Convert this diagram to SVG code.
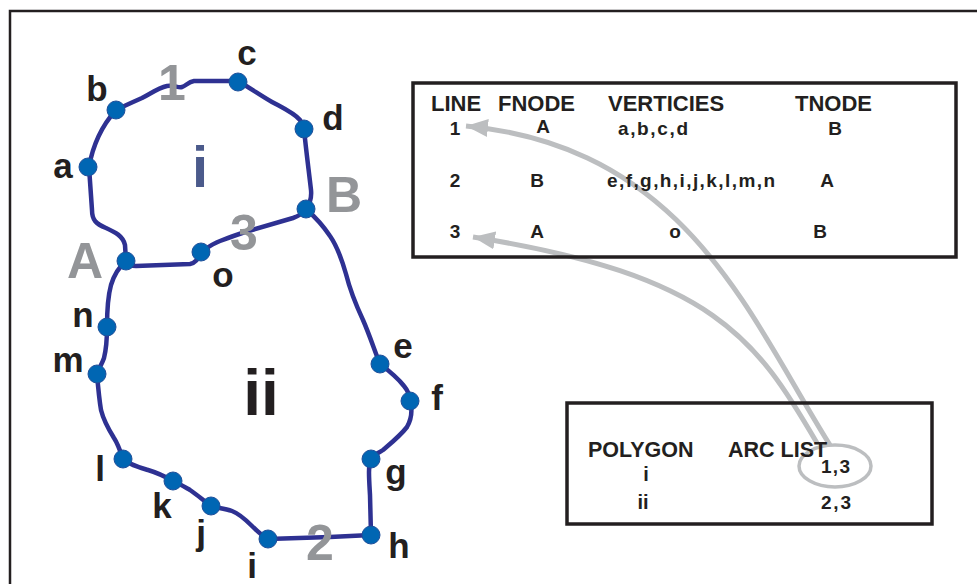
<svg xmlns="http://www.w3.org/2000/svg" width="977" height="584" viewBox="0 0 977 584">
<style>
.frame{fill:none;stroke:#231f20;stroke-width:2.5}
.box{fill:none;stroke:#231f20;stroke-width:3.5}
.arc{fill:none;stroke:#2e3192;stroke-width:4.5;stroke-linejoin:round;stroke-linecap:round}
.pt{fill:#0066b3;stroke:#1f4f9a;stroke-width:1}
.ptr{fill:none;stroke:#bcbec0;stroke-width:5}
.lbl{font-family:"Liberation Sans",Arial,sans-serif;font-weight:bold;fill:#231f20;font-size:35px;text-anchor:middle}
.big{font-family:"Liberation Sans",Arial,sans-serif;font-weight:bold;fill:#939598;font-size:50px;text-anchor:middle}
.hd{font-family:"Liberation Sans",Arial,sans-serif;font-weight:bold;fill:#231f20;font-size:22px}
.cell{font-family:"Liberation Sans",Arial,sans-serif;font-weight:bold;fill:#231f20;font-size:19px}
.mid{text-anchor:middle}
</style>
<defs>
<marker id="ah" markerUnits="userSpaceOnUse" markerWidth="24" markerHeight="20" viewBox="0 -10 24 20" refX="22" refY="0" orient="auto">
<path d="M0,-9 L22,0 L0,9 Z" fill="#bcbec0"/>
</marker>
</defs>
<rect width="977" height="584" fill="#fff"/>
<path class="frame" d="M10,584 L10,11 L977,11"/>

<g id="connectors">
<path class="ptr" d="M830,445 C750,318 687,147 466,126" marker-end="url(#ah)"/>
<path class="ptr" d="M817,443 C757,340 714,275 473,237" marker-end="url(#ah)"/>
<ellipse class="ptr" cx="835" cy="466" rx="36" ry="21" style="stroke-width:3.5"/>
</g>

<g id="line1">
<path class="arc" d="M126,261 L125,245 C123,236 115,232 106,228 C96,224 92,220 92,210 L89,167 C92,150 98,130 116,110 C124,106 133,102 142,98 C150,94 158,88 167,86 C174,85 178,88 182,87 C186,86 188,82 194,81 L238,81 C250,88 263,97 272,102 C283,108 294,113 300,120 L304,129 C306,150 309,172 311,190 C312,200 309,205 306,209"/>
</g>
<g id="line3">
<path class="arc" d="M126,261 C128,264 130,266 136,266 L190,264 C196,263 199,258 201,252 C207,248 212,244 220,241 C228,238 236,235 245,232 L293,218 C299,216 303,213 306,209"/>
</g>
<g id="line2">
<path class="arc" d="M306,209 C314,216 322,224 330,236 C337,246 342,260 346,274 C350,290 356,305 363,320 C370,336 375,352 380,364 C388,370 397,377 404,386 C409,392 410,397 410,401 C412,408 412,418 407,427 C400,436 390,444 383,450 C377,454 373,455 371,459 C368,466 369,478 370,495 L371,535 L330,537 L268,539 C262,536 258,532 252,526 C246,520 240,514 232,511 C224,508 216,508 211,506 C203,500 196,494 190,490 C183,486 178,483 173,481 C166,477 158,473 148,470 C138,467 130,465 123,459 C120,450 118,444 114,438 C109,430 104,422 101,410 C99,398 98,386 97,374 C99,368 102,364 104,358 C106,350 107,340 107,327 C107,310 108,296 111,285 C114,275 119,267 126,261"/>
</g>

<g id="nodes">
<g id="node-a"><circle class="pt" cx="88" cy="167" r="9"/><text class="lbl" x="63" y="178">a</text></g>
<g id="node-b"><circle class="pt" cx="116" cy="110" r="9"/><text class="lbl" x="97" y="101">b</text></g>
<g id="node-c"><circle class="pt" cx="238" cy="82" r="9"/><text class="lbl" x="247" y="65">c</text></g>
<g id="node-d"><circle class="pt" cx="304" cy="129" r="9"/><text class="lbl" x="333" y="130">d</text></g>
<g id="node-B"><circle class="pt" cx="306" cy="209" r="9"/><text class="big" x="344" y="212">B</text></g>
<g id="node-A"><circle class="pt" cx="126" cy="261" r="9"/><text class="big" x="85" y="278">A</text></g>
<g id="node-o"><circle class="pt" cx="201" cy="252" r="9"/><text class="lbl" x="223" y="287">o</text></g>
<g id="node-e"><circle class="pt" cx="380" cy="364" r="9"/><text class="lbl" x="403" y="358">e</text></g>
<g id="node-f"><circle class="pt" cx="410" cy="401" r="9"/><text class="lbl" x="437" y="410">f</text></g>
<g id="node-g"><circle class="pt" cx="371" cy="459" r="9"/><text class="lbl" x="396" y="484">g</text></g>
<g id="node-h"><circle class="pt" cx="371" cy="535" r="9"/><text class="lbl" x="399" y="558">h</text></g>
<g id="node-i"><circle class="pt" cx="268" cy="539" r="9"/><text class="lbl" x="252" y="578">i</text></g>
<g id="node-j"><circle class="pt" cx="211" cy="506" r="9"/><text class="lbl" x="201" y="545">j</text></g>
<g id="node-k"><circle class="pt" cx="173" cy="481" r="9"/><text class="lbl" x="162" y="518">k</text></g>
<g id="node-l"><circle class="pt" cx="123" cy="459" r="9"/><text class="lbl" x="100" y="481">l</text></g>
<g id="node-m"><circle class="pt" cx="97" cy="374" r="9"/><text class="lbl" x="68" y="372">m</text></g>
<g id="node-n"><circle class="pt" cx="107" cy="327" r="9"/><text class="lbl" x="83" y="327">n</text></g>
</g>

<g id="arc-labels">
<text class="big" x="172" y="100">1</text>
<text class="big" x="244" y="250">3</text>
<text class="big" x="320" y="560">2</text>
<text x="200" y="187" style="font-family:'Liberation Sans',Arial,sans-serif;font-weight:bold;font-size:58px;fill:#4b5a8b;text-anchor:middle">i</text>
<text x="261" y="415" style="font-family:'Liberation Sans',Arial,sans-serif;font-weight:bold;font-size:64px;fill:#231f20;text-anchor:middle">ii</text>
</g>

<g id="line-table">
<rect class="box" x="413" y="83" width="543" height="174"/>
<text class="hd" x="431" y="111">LINE</text>
<text class="hd" x="498" y="111">FNODE</text>
<text class="hd" x="608" y="111">VERTICIES</text>
<text class="hd" x="795" y="111">TNODE</text>
<text class="cell mid" x="455" y="135">1</text>
<text class="cell mid" x="543" y="133">A</text>
<text class="cell" x="618" y="135" textLength="70" lengthAdjust="spacing">a,b,c,d</text>
<text class="cell mid" x="835" y="135">B</text>
<text class="cell mid" x="455" y="187">2</text>
<text class="cell mid" x="537" y="187">B</text>
<text class="cell" x="607" y="187" textLength="168" lengthAdjust="spacing">e,f,g,h,i,j,k,l,m,n</text>
<text class="cell mid" x="827" y="187">A</text>
<text class="cell mid" x="455" y="238">3</text>
<text class="cell mid" x="537" y="238">A</text>
<text class="cell mid" x="675" y="238">o</text>
<text class="cell mid" x="820" y="238">B</text>
</g>

<g id="polygon-table">
<rect class="box" x="567" y="403" width="365" height="121"/>
<text class="hd" x="588" y="457" style="font-size:21.5px">POLYGON</text>
<text class="hd" x="728" y="457" style="font-size:21.5px">ARC LIST</text>
<text class="cell mid" x="646" y="481" style="font-size:20px">i</text>
<text class="cell" x="821" y="473" style="font-size:19px" textLength="29" lengthAdjust="spacing">1,3</text>
<text class="cell mid" x="643" y="509" style="font-size:20px">ii</text>
<text class="cell" x="821" y="509" style="font-size:19px" textLength="30" lengthAdjust="spacing">2,3</text>
</g>
</svg>
